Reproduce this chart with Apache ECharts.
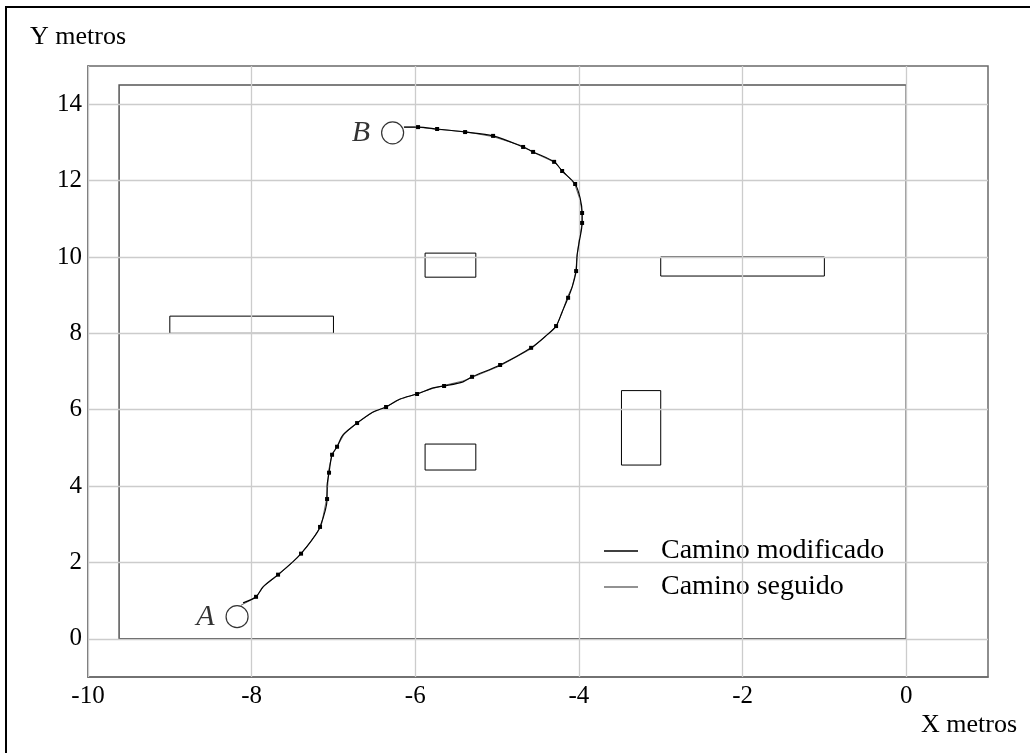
<!DOCTYPE html>
<html>
<head>
<meta charset="utf-8">
<script src="https://cdn.jsdelivr.net/npm/echarts@6/dist/echarts.min.js"></script>
<style>html,body{margin:0;padding:0;background:#fff}#c{width:1030px;height:753px}</style>
</head>
<body>
<div id="c"></div>
<script>
// ---- data ----
const xTicks = [-10, -8, -6, -4, -2, 0];
const yTicks = [0, 2, 4, 6, 8, 10, 12, 14];
const seriesNames = ['Camino modificado', 'Camino seguido'];
// modified path (A -> B)
const caminoModificado = [
  [-8.105,0.94],[-7.946,1.10],[-7.861,1.36],[-7.677,1.68],[-7.494,2.02],[-7.396,2.23],
  [-7.262,2.59],[-7.164,2.93],[-7.078,3.66],[-7.078,3.98],[-7.054,4.35],[-7.017,4.82],
  [-6.956,5.03],[-6.883,5.34],[-6.711,5.65],[-6.516,5.94],[-6.357,6.07],[-6.186,6.28],
  [-5.978,6.41],[-5.782,6.57],[-5.648,6.62],[-5.416,6.73],[-5.306,6.86],[-4.963,7.17],
  [-4.584,7.62],[-4.389,7.96],[-4.279,8.19],[-4.205,8.56],[-4.132,8.93],[-4.083,9.21],
  [-4.034,9.63],[-4.022,10.05],[-3.998,10.37],[-3.961,10.89],[-3.961,11.15],[-3.985,11.54],
  [-4.046,11.91],[-4.205,12.25],[-4.303,12.49],[-4.560,12.75],[-4.682,12.88],[-5.049,13.17],
  [-5.391,13.27],[-5.733,13.35],[-5.966,13.40],[-6.137,13.40]
];
// 1 = point drawn with a small square marker
const marcados = [0,1,0,1,0,1,0,1,1,0,1,1,1,0,1,0,1,0,1,0,1,0,1,1,1,0,1,0,1,0,1,0,0,1,1,0,1,1,1,1,1,1,1,1,1,0];
// followed path
const caminoSeguido = [
  [-8.13,0.88],[-7.95,1.08],[-7.85,1.38],[-7.68,1.66],[-7.50,2.00],[-7.39,2.25],
  [-7.27,2.57],[-7.15,2.95],[-7.09,3.60],[-7.07,4.00],[-7.06,4.40],[-7.02,4.80],
  [-6.95,5.05],[-6.87,5.36],[-6.70,5.67],[-6.52,5.93],[-6.35,6.08],[-6.19,6.27],
  [-5.98,6.42],[-5.78,6.56],[-5.64,6.64],[-5.42,6.75],[-5.30,6.85],[-4.96,7.15],
  [-4.58,7.60],[-4.38,7.98],[-4.27,8.21],[-4.21,8.52],[-4.14,8.95],[-4.08,9.23],
  [-4.04,9.60],[-4.02,10.06],[-4.00,10.40],[-3.96,10.90],[-3.96,11.16],[-3.99,11.52],
  [-4.05,11.90],[-4.20,12.26],[-4.30,12.48],[-4.56,12.74],[-4.68,12.90],[-5.05,13.15],
  [-5.39,13.28],[-5.73,13.34],[-5.97,13.40],[-6.14,13.40]
];
// environment boundary [x1, x2, y1, y2]
const entorno = [[-9.62, 0, 0, 14.5]];
// obstacles [x1, x2, y1, y2]
const obstaculos = [
  [-9.0, -7.0, 8.0, 8.45],
  [-5.88, -5.26, 9.47, 10.1],
  [-3.0, -1.0, 9.5, 10.0],
  [-3.48, -3.0, 4.55, 6.5],
  [-5.88, -5.26, 4.42, 5.1]
];
// start / end points
const puntos = [
  {name: 'A', pos: [-8.178, 0.58]},
  {name: 'B', pos: [-6.277, 13.25]}
];

const serif = '"Liberation Serif", "DejaVu Serif", serif';

function rectRenderer(color, width) {
  return function (params, api) {
    const p1 = api.coord([api.value(0), api.value(3)]);
    const p2 = api.coord([api.value(1), api.value(2)]);
    return {
      type: 'rect',
      shape: {x: p1[0], y: p1[1], width: p2[0] - p1[0], height: p2[1] - p1[1]},
      style: {fill: 'none', stroke: color, lineWidth: width}
    };
  };
}

const chart = echarts.init(document.getElementById('c'), null, {renderer: 'canvas'});
chart.setOption({
  animation: false,
  backgroundColor: '#fff',
  grid: {left: 88, top: 66, right: 42, bottom: 76, show: true, borderColor: '#6a6a6a', borderWidth: 1.5, backgroundColor: 'transparent'},
  xAxis: {
    type: 'value', min: -10, max: 1,
    axisLine: {show: true, onZero: false, lineStyle: {color: '#6a6a6a', width: 1.5}},
    axisTick: {show: true, inside: true, length: 9, customValues: xTicks, lineStyle: {color: '#999'}},
    axisLabel: {customValues: xTicks, margin: 7, color: '#000', fontFamily: serif, fontSize: 25},
    splitLine: {show: false}
  },
  yAxis: {
    type: 'value', min: -1, max: 15,
    axisLine: {show: true, onZero: false, lineStyle: {color: '#6a6a6a', width: 1.5}},
    axisTick: {show: true, inside: true, length: 9, customValues: yTicks, lineStyle: {color: '#999'}},
    axisLabel: {customValues: yTicks, margin: 6, color: '#000', fontFamily: serif, fontSize: 25},
    splitLine: {show: false}
  },
  legend: {
    orient: 'vertical', left: 604, top: 537, itemGap: 8, padding: 0,
    itemWidth: 34, itemHeight: 1.5, icon: 'rect',
    data: seriesNames,
    textStyle: {fontFamily: serif, fontSize: 28, color: '#000', lineHeight: 27, padding: [0, 0, 0, 18]}
  },
  graphic: [
    {type: 'rect', shape: {x: 6, y: 7, width: 1100, height: 1000}, style: {fill: 'none', stroke: '#000', lineWidth: 2}, z: 100},
    {type: 'text', left: 30, top: 24, style: {text: 'Y metros', font: '26px ' + serif, fill: '#000'}},
    {type: 'text', right: 13, top: 712, style: {text: 'X metros', font: '26px ' + serif, fill: '#000'}}
  ],
  series: [
    {
      type: 'line', data: [], z: 1, silent: true,
      markLine: {
        silent: true, symbol: 'none', label: {show: false},
        lineStyle: {color: '#cccccc', width: 1.3, type: 'solid'},
        data: xTicks.map(v => ({xAxis: v})).concat(yTicks.map(v => ({yAxis: v})))
      }
    },
    {
      type: 'custom', z: 3, silent: true,
      renderItem: rectRenderer('#555', 1.5),
      data: entorno
    },
    {
      type: 'custom', z: 3, silent: true,
      renderItem: rectRenderer('#000', 1),
      data: obstaculos
    },
    {
      name: seriesNames[1], type: 'line', z: 4,
      color: '#6e6e6e',
      showSymbol: false, symbol: 'none',
      lineStyle: {color: '#6e6e6e', width: 1},
      data: caminoSeguido
    },
    {
      name: seriesNames[0], type: 'line', z: 5,
      color: '#000', smooth: 0.3,
      symbol: 'rect', symbolSize: 4,
      itemStyle: {color: '#000'},
      lineStyle: {color: '#000', width: 1.2},
      data: caminoModificado.map((p, i) => ({value: p, symbol: marcados[i] ? 'rect' : 'none'}))
    },
    {
      type: 'scatter', z: 6, silent: true,
      symbol: 'circle', symbolSize: 22,
      itemStyle: {color: '#fff', borderColor: '#000', borderWidth: 1.2},
      label: {show: true, position: 'left', distance: 11, formatter: '{b}', color: '#000', fontFamily: serif, fontStyle: 'italic', fontSize: 30},
      data: puntos.map(p => ({name: p.name, value: p.pos}))
    }
  ]
});
</script>
</body>
</html>
